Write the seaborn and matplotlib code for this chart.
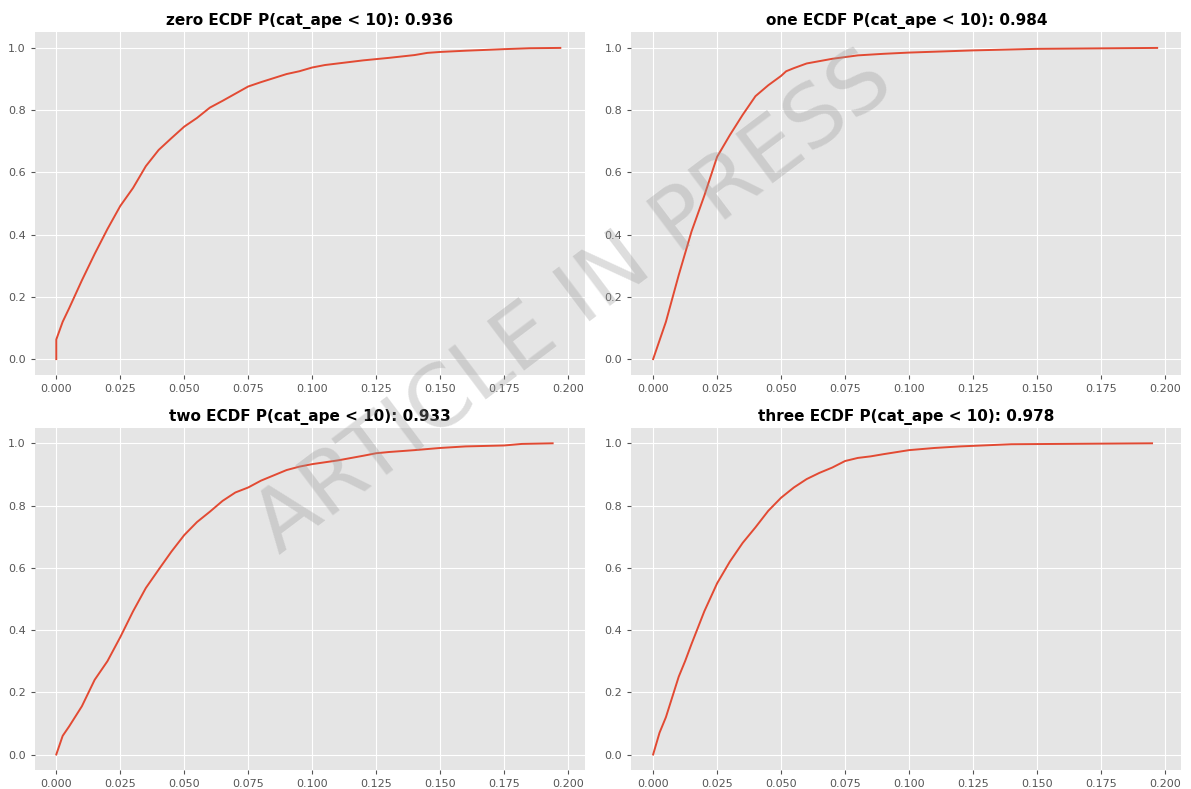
import matplotlib
matplotlib.use("Agg")
import matplotlib.pyplot as plt
import seaborn as sns
import pandas as pd

# ---- data ----
titles = ["zero ECDF P(cat_ape < 10): 0.936",
          "one ECDF P(cat_ape < 10): 0.984",
          "two ECDF P(cat_ape < 10): 0.933",
          "three ECDF P(cat_ape < 10): 0.978"]

zero_x = [0.0, 0.0, 0.0025, 0.005, 0.010, 0.015, 0.020, 0.025, 0.030, 0.035, 0.040,
          0.045, 0.050, 0.055, 0.060, 0.065, 0.070, 0.075, 0.080, 0.085, 0.090,
          0.095, 0.100, 0.105, 0.110, 0.120, 0.130, 0.140, 0.145, 0.150, 0.160,
          0.175, 0.185, 0.197]
zero_y = [0.0, 0.063, 0.12, 0.163, 0.253, 0.338, 0.418, 0.492, 0.55, 0.62, 0.672,
          0.71, 0.747, 0.775, 0.808, 0.83, 0.853, 0.876, 0.89, 0.903, 0.916,
          0.925, 0.937, 0.945, 0.95, 0.96, 0.968, 0.977, 0.984, 0.987, 0.991,
          0.996, 0.999, 1.0]

one_x = [0.0, 0.005, 0.0075, 0.010, 0.015, 0.020, 0.025, 0.030, 0.035, 0.040, 0.045,
         0.050, 0.052, 0.055, 0.060, 0.070, 0.080, 0.090, 0.100, 0.125, 0.150, 0.197]
one_y = [0.0, 0.12, 0.195, 0.27, 0.41, 0.525, 0.65, 0.72, 0.785, 0.845, 0.88,
         0.91, 0.925, 0.935, 0.95, 0.965, 0.976, 0.981, 0.985, 0.992, 0.997, 1.0]

two_x = [0.0, 0.0025, 0.005, 0.010, 0.015, 0.020, 0.025, 0.030, 0.035, 0.040, 0.045,
         0.050, 0.055, 0.060, 0.065, 0.070, 0.075, 0.080, 0.085, 0.090, 0.095,
         0.100, 0.110, 0.120, 0.125, 0.130, 0.140, 0.150, 0.160, 0.175, 0.182, 0.194]
two_y = [0.0, 0.06, 0.09, 0.155, 0.24, 0.30, 0.377, 0.46, 0.535, 0.594, 0.652,
         0.705, 0.747, 0.78, 0.815, 0.842, 0.858, 0.88, 0.897, 0.914, 0.925,
         0.933, 0.945, 0.96, 0.968, 0.972, 0.978, 0.985, 0.99, 0.993, 0.998, 1.0]

three_x = [0.0, 0.0025, 0.005, 0.0075, 0.010, 0.0125, 0.015, 0.020, 0.025, 0.030,
           0.035, 0.040, 0.045, 0.050, 0.055, 0.060, 0.065, 0.070, 0.075, 0.080,
           0.085, 0.090, 0.100, 0.110, 0.120, 0.140, 0.195]
three_y = [0.0, 0.07, 0.12, 0.185, 0.25, 0.30, 0.355, 0.46, 0.55, 0.62,
           0.68, 0.73, 0.783, 0.825, 0.858, 0.885, 0.905, 0.922, 0.943, 0.953,
           0.958, 0.965, 0.978, 0.985, 0.99, 0.997, 1.0]

series = [(zero_x, zero_y), (one_x, one_y), (two_x, two_y), (three_x, three_y)]

x_ticks = [0.0, 0.025, 0.05, 0.075, 0.1, 0.125, 0.15, 0.175, 0.2]
y_ticks = [0.0, 0.2, 0.4, 0.6, 0.8, 1.0]

# ---- style ----
plt.style.use("ggplot")
sns.set_style({"axes.facecolor": "#E5E5E5", "grid.color": "white"})
plt.rcParams["font.family"] = ["DejaVu Sans"]

fig, axes = plt.subplots(2, 2, figsize=(11.91, 7.89), dpi=100)
fig.subplots_adjust(left=0.029, right=0.992, top=0.959, bottom=0.024,
                    wspace=0.085, hspace=0.155)

for ax, (xs, ys), title in zip(axes.flat, series, titles):
    df = pd.DataFrame({"x": xs, "y": ys})
    sns.lineplot(data=df, x="x", y="y", ax=ax, color="#E24A33", lw=1.4,
                 sort=False, estimator=None)
    ax.set_title(title, fontsize=11, fontweight="bold", color="black", pad=5)
    ax.set_xlabel("")
    ax.set_ylabel("")
    ax.set_xticks(x_ticks)
    ax.set_yticks(y_ticks)
    ax.set_xticklabels([f"{v:.3f}" for v in x_ticks])
    ax.set_yticklabels([f"{v:.1f}" for v in y_ticks])
    ax.tick_params(labelsize=8, colors="#555555", length=3)
    ax.set_xlim(-0.0085, 0.2065)
    ax.set_ylim(-0.05, 1.05)
    ax.grid(True, color="white", lw=0.8)
    for s in ax.spines.values():
        s.set_visible(False)

fig.text(0.482, 0.615, "ARTICLE IN PRESS", fontsize=62, color="#999999",
         alpha=0.33, rotation=37, ha="center", va="center", fontweight="normal")

fig.savefig("out.png", dpi=100)
